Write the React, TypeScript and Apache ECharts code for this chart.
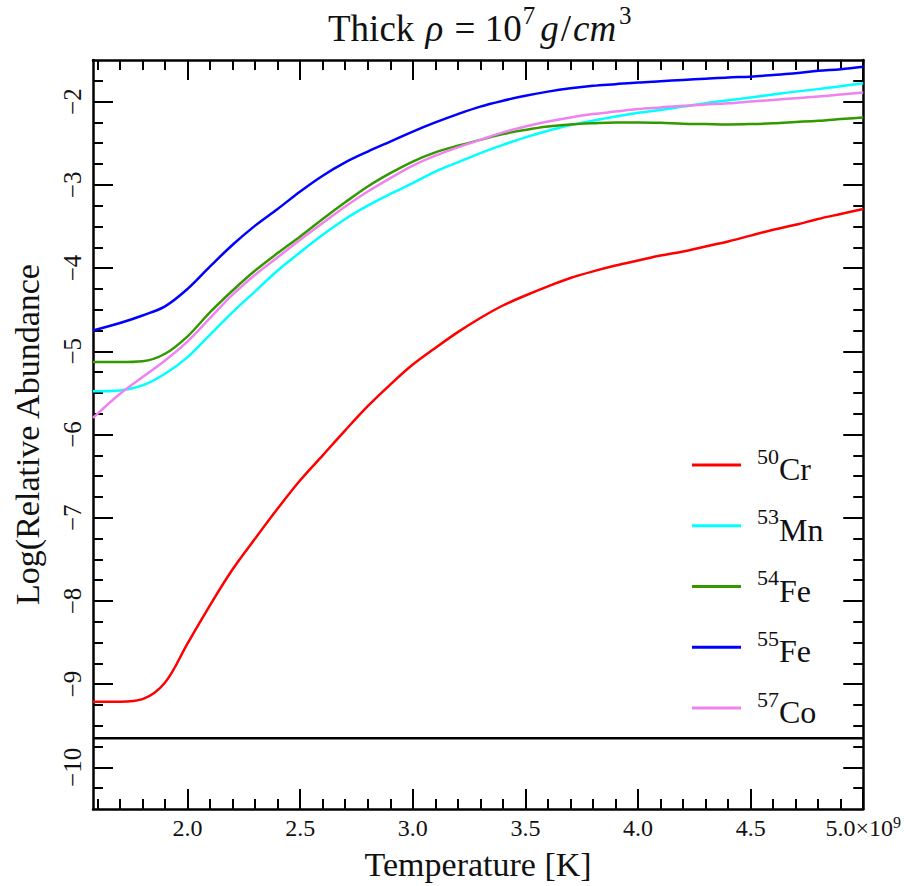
import React, { useEffect, useRef } from "react";
import * as echarts from "echarts";

const temperature = [1.58, 1.7, 1.8, 1.9, 2.0, 2.1, 2.2, 2.3, 2.4, 2.5, 2.6, 2.7, 2.8, 2.9, 3.0, 3.1, 3.2, 3.3, 3.4, 3.5, 3.6, 3.7, 3.8, 3.9, 4.0, 4.1, 4.2, 4.3, 4.4, 4.5, 4.6, 4.7, 4.8, 4.9, 5.0];

const cr50 = [-9.21, -9.21, -9.18, -8.98, -8.51, -8.05, -7.62, -7.25, -6.89, -6.55, -6.25, -5.95, -5.66, -5.4, -5.16, -4.96, -4.77, -4.6, -4.45, -4.33, -4.22, -4.12, -4.04, -3.97, -3.91, -3.85, -3.8, -3.74, -3.68, -3.61, -3.54, -3.48, -3.41, -3.35, -3.29];
const mn53 = [-5.48, -5.47, -5.41, -5.27, -5.07, -4.8, -4.53, -4.28, -4.03, -3.81, -3.6, -3.41, -3.25, -3.11, -2.98, -2.84, -2.73, -2.62, -2.52, -2.43, -2.35, -2.28, -2.23, -2.18, -2.135, -2.1, -2.06, -2.02, -1.985, -1.95, -1.915, -1.88, -1.85, -1.815, -1.78];
const fe54 = [-5.13, -5.13, -5.12, -5.03, -4.82, -4.53, -4.27, -4.03, -3.82, -3.62, -3.41, -3.21, -3.02, -2.86, -2.72, -2.61, -2.53, -2.46, -2.39, -2.34, -2.3, -2.275, -2.26, -2.25, -2.25, -2.255, -2.265, -2.27, -2.275, -2.27, -2.26, -2.245, -2.23, -2.21, -2.19];
const fe55 = [-4.75, -4.66, -4.57, -4.46, -4.25, -3.98, -3.72, -3.49, -3.29, -3.08, -2.89, -2.73, -2.6, -2.48, -2.36, -2.25, -2.15, -2.06, -1.99, -1.93, -1.88, -1.84, -1.81, -1.79, -1.77, -1.755, -1.74, -1.725, -1.71, -1.7, -1.68, -1.66, -1.63, -1.61, -1.58];
const co57 = [-5.8, -5.51, -5.31, -5.11, -4.88, -4.6, -4.32, -4.08, -3.87, -3.66, -3.46, -3.26, -3.08, -2.92, -2.77, -2.65, -2.55, -2.46, -2.37, -2.3, -2.24, -2.19, -2.15, -2.12, -2.09, -2.07, -2.05, -2.035, -2.02, -2.0, -1.98, -1.96, -1.94, -1.915, -1.89];

const baselineValue = -9.65;

const seriesNames = ["50Cr", "53Mn", "54Fe", "55Fe", "57Co"];
const seriesColors = ["#ff0000", "#00ffff", "#339900", "#0000ff", "#ee82ee"];

const xMajorTicks = [2.0, 2.5, 3.0, 3.5, 4.0, 4.5, 5.0];
const xMinorTicks = [1.6, 1.7, 1.8, 1.9, 2.1, 2.2, 2.3, 2.4, 2.6, 2.7, 2.8, 2.9, 3.1, 3.2, 3.3, 3.4, 3.6, 3.7, 3.8, 3.9, 4.1, 4.2, 4.3, 4.4, 4.6, 4.7, 4.8, 4.9];
const yMajorTicks = [-10, -9, -8, -7, -6, -5, -4, -3, -2];
const yMinorTicks = [-10.25, -9.75, -9.5, -9.25, -8.75, -8.5, -8.25, -7.75, -7.5, -7.25, -6.75, -6.5, -6.25, -5.75, -5.5, -5.25, -4.75, -4.5, -4.25, -3.75, -3.5, -3.25, -2.75, -2.5, -2.25, -1.75];

const X_MIN = 1.58;
const X_MAX = 5.0;
const Y_MIN = -10.5;
const Y_MAX = -1.5;

const FONT = "Liberation Serif";

export default function App() {
  const ref = useRef<HTMLDivElement>(null);

  useEffect(() => {
    if (!ref.current) return;
    const chart = echarts.init(ref.current, null, { renderer: "svg" });
    const allSeries = [cr50, mn53, fe54, fe55, co57];

    const axisLineStyle = { color: "#000", width: 2.5 };
    const tickStyle = { color: "#000", width: 2 };

    const makeX = (pos: string, ticks: number[], len: number, labels: boolean, line: boolean) => ({
      type: "value",
      position: pos,
      min: X_MIN,
      max: X_MAX,
      axisLine: { show: line, onZero: false, lineStyle: axisLineStyle },
      axisTick: { show: true, inside: true, length: len, customValues: ticks, lineStyle: tickStyle },
      axisLabel: labels
        ? {
            show: true,
            customValues: xMajorTicks,
            margin: 5,
            fontFamily: FONT,
            fontSize: 24,
            color: "#111",
            formatter: (v: number) => (Math.abs(v - 5) < 1e-9 ? "{n|5.0×10}{s|9}" : `{n|${v.toFixed(1)}}`),
            rich: {
              n: { fontFamily: FONT, fontSize: 24, lineHeight: 26, verticalAlign: "bottom", color: "#111" },
              s: { fontFamily: FONT, fontSize: 16, lineHeight: 20, verticalAlign: "top", color: "#111" },
            },
          }
        : { show: false },
      splitLine: { show: false },
    });

    const makeY = (pos: string, ticks: number[], len: number, labels: boolean, line: boolean) => ({
      type: "value",
      position: pos,
      min: Y_MIN,
      max: Y_MAX,
      axisLine: { show: line, onZero: false, lineStyle: axisLineStyle },
      axisTick: { show: true, inside: true, length: len, customValues: ticks, lineStyle: tickStyle },
      axisLabel: labels
        ? {
            show: true,
            customValues: yMajorTicks,
            rotate: 90,
            margin: 8,
            fontFamily: FONT,
            fontSize: 25,
            color: "#111",
            formatter: (v: number) => (v < 0 ? "\u2212" + Math.abs(v) : String(v)),
          }
        : { show: false },
      splitLine: { show: false },
    });

    const xMain: any = makeX("bottom", xMajorTicks, 20, true, true);
    xMain.name = "Temperature [K]";
    xMain.nameLocation = "middle";
    xMain.nameGap = 38;
    xMain.nameTextStyle = { fontFamily: FONT, fontSize: 34, color: "#111" };

    const yMain: any = makeY("left", yMajorTicks, 20, true, true);
    yMain.name = "Log(Relative Abundance";
    yMain.nameLocation = "middle";
    yMain.nameGap = 49;
    yMain.nameTextStyle = { fontFamily: FONT, fontSize: 34, color: "#111" };

    const option: any = {
      animation: false,
      backgroundColor: "#fff",
      title: {
        text: "{n|Thick }{i|ρ}{n| = 10}{s|7}{i|g}{n|/}{i|cm}{s|3}",
        left: 328,
        top: 3,
        padding: 0,
        textStyle: {
          fontFamily: FONT,
          fontWeight: "normal",
          rich: {
            n: { fontFamily: FONT, fontSize: 37, lineHeight: 44, verticalAlign: "bottom", color: "#111" },
            i: { fontFamily: FONT, fontSize: 37, fontStyle: "italic", lineHeight: 44, verticalAlign: "bottom", color: "#111", padding: [0, 2, 0, 2] },
            s: { fontFamily: FONT, fontSize: 25, lineHeight: 36, verticalAlign: "top", color: "#111", padding: [0, 3, 0, 1] },
          },
        },
      },
      grid: { left: 93, right: 40, top: 60, bottom: 75, containLabel: false },
      legend: {
        orient: "vertical",
        left: 692,
        top: 445,
        padding: 0,
        itemWidth: 49,
        itemHeight: 3,
        itemGap: 20.75,
        icon: "rect",
        data: seriesNames,
        formatter: (name: string) => {
          const m = name.match(/^(\d+)(.*)$/);
          return m ? `{g|}{s|${m[1]}}{b|${m[2]}}` : name;
        },
        textStyle: {
          fontFamily: FONT,
          rich: {
            g: { width: 11, lineHeight: 40 },
            s: { fontFamily: FONT, fontSize: 22, lineHeight: 34, verticalAlign: "top", color: "#111" },
            b: { fontFamily: FONT, fontSize: 32, lineHeight: 40, verticalAlign: "bottom", color: "#111" },
          },
        },
      },
      xAxis: [
        xMain,
        makeX("bottom", xMinorTicks, 10, false, false),
        makeX("top", xMajorTicks, 20, false, true),
        makeX("top", xMinorTicks, 10, false, false),
      ],
      yAxis: [
        yMain,
        makeY("left", yMinorTicks, 10, false, false),
        makeY("right", yMajorTicks, 20, false, true),
        makeY("right", yMinorTicks, 10, false, false),
      ],
      series: [
        ...seriesNames.map((name, i) => ({
          name,
          type: "line",
          xAxisIndex: 0,
          yAxisIndex: 0,
          data: temperature.map((t, j) => [t, allSeries[i][j]]),
          showSymbol: false,
          symbol: "none",
          smooth: 0.35,
          lineStyle: { color: seriesColors[i], width: 2.5 },
          itemStyle: { color: seriesColors[i] },
          z: 3,
        })),
        {
          name: "baseline",
          type: "line",
          xAxisIndex: 0,
          yAxisIndex: 0,
          data: [
            [X_MIN, baselineValue],
            [X_MAX, baselineValue],
          ],
          showSymbol: false,
          symbol: "none",
          lineStyle: { color: "#000", width: 2.5 },
          z: 2,
        },
      ],
    };

    chart.setOption(option);
    return () => chart.dispose();
  }, []);

  return <div ref={ref} style={{ position: "absolute", left: 0, top: 0, width: 904, height: 886 }} />;
}
